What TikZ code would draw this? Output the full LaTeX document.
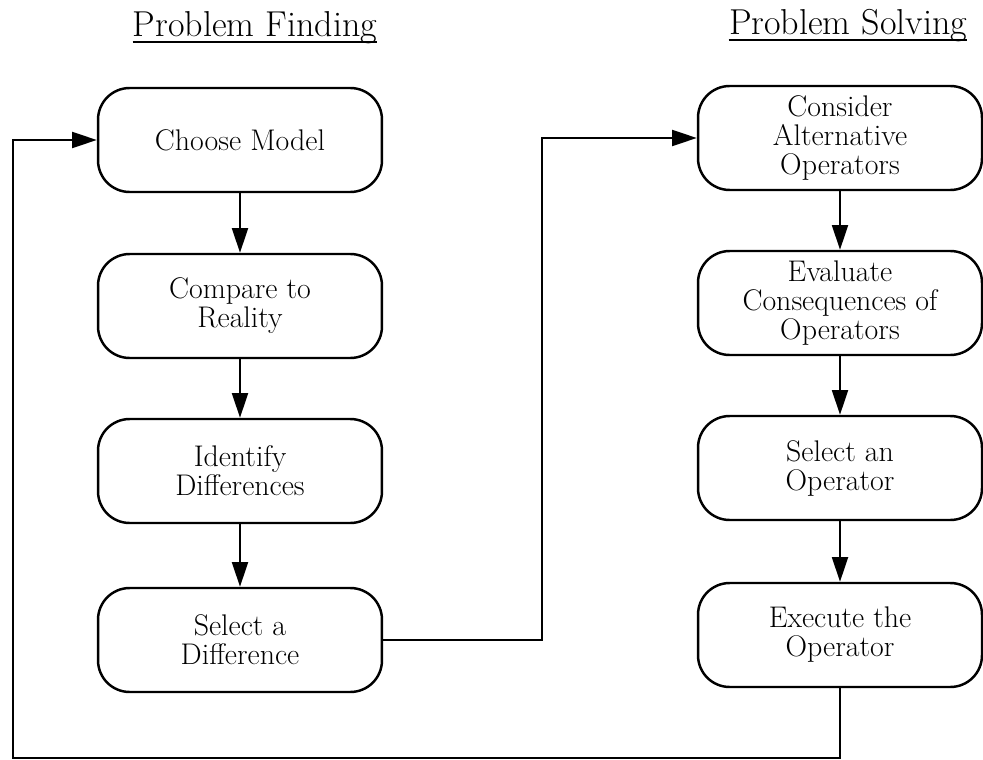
\documentclass[tikz,border=0pt]{standalone}
\usetikzlibrary{arrows.meta,positioning}
\tikzset{
  stage/.style={draw, rectangle, rounded corners=18pt, minimum height=2.08cm, minimum width=5.68cm, align=center, line width=1.4pt, font=\fontsize{17}{16.5}\selectfont, inner sep=2pt},
  arr/.style={-{Triangle[length=14pt, width=9pt]}, line width=1.4pt},
  ttl/.style={font=\fontsize{20.5}{24}\selectfont, anchor=base, inner xsep=0pt},
  uline/.style={line width=0.9pt},
}
\begin{document}
\begin{tikzpicture}[x=0.02cm, y=-0.02cm]
\useasboundingbox (0,0) rectangle (983,760);

% Headings
\node[ttl] (pf) at (255,37) {Problem Finding};
\node[ttl] (ps) at (848,35) {Problem Solving};
\draw[uline] ([yshift=-3pt]pf.base west) -- ([yshift=-3pt]pf.base east);
\draw[uline] ([yshift=-3pt]ps.base west) -- ([yshift=-3pt]ps.base east);

% Problem finding column
\node[stage] (cm)  at (240,140) {Choose Model};
\node[stage] (cr)  at (240,306) {Compare to\\Reality};
\node[stage] (idf) at (240,471) {Identify\\Differences};
\node[stage] (sd)  at (240,640) {Select a\\Difference};

% Problem solving column
\node[stage] (cao) at (840,138) {Consider\\Alternative\\Operators};
\node[stage] (eco) at (840,303) {Evaluate\\Consequences of\\Operators};
\node[stage] (sao) at (840,468) {Select an\\Operator};
\node[stage] (eo)  at (840,635) {Execute the\\Operator};

% Flow inside columns
\draw[arr] (cm) -- (cr);
\draw[arr] (cr) -- (idf);
\draw[arr] (idf) -- (sd);
\draw[arr] (cao) -- (eco);
\draw[arr] (eco) -- (sao);
\draw[arr] (sao) -- (eo);

% Links between columns
\coordinate (turnA) at (542,0);
\coordinate (loopL) at (13,758);
\draw[arr] (sd.east) -| (turnA |- cao.west) -- (cao.west);
\draw[arr] (eo.south) |- (loopL) |- (cm.west);

\end{tikzpicture}
\end{document}
